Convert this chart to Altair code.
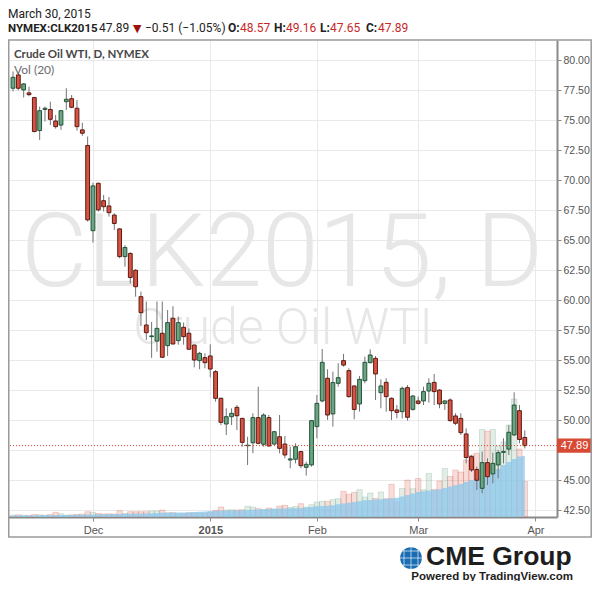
import altair as alt
import pandas as pd

# ---------------- data ----------------
opens = [77.67, 78.78, 77.53, 77.28, 76.89, 74.14, 75.90, 75.90, 74.94, 74.60,
         76.55, 76.80, 76.00, 74.20, 72.90, 65.80, 69.75, 68.30, 67.86, 67.10,
         65.95, 63.64, 63.90, 62.50, 60.30, 57.94, 56.97, 56.60, 57.25, 56.22,
         58.50, 56.64, 57.75, 57.25, 56.27, 54.97, 55.22, 55.36, 54.05, 51.83,
         49.69, 50.30, 51.08, 50.16, 47.88, 48.13, 50.22, 48.00, 50.22, 48.02,
         48.63, 48.02, 46.69, 46.75, 47.39, 46.08, 46.28, 49.47, 51.61, 53.50,
         50.53, 53.08, 54.97, 54.14, 52.86, 51.36, 53.30, 54.80, 55.16, 52.30,
         53.16, 51.83, 50.86, 50.72, 52.72, 50.91, 51.61, 51.61, 52.44, 53.16,
         52.52, 51.41, 51.69, 50.36, 50.16, 48.86, 46.97, 45.90, 44.33, 46.47,
         45.53, 46.28, 47.33, 47.60, 48.78, 50.80, 48.57]
highs = [79.06, 78.90, 78.10, 77.80, 76.95, 76.14, 76.14, 76.55, 75.44, 75.86,
         77.67, 77.10, 76.70, 74.80, 73.64, 69.80, 69.80, 68.78, 68.60, 67.25,
         66.00, 64.60, 64.00, 62.60, 60.72, 59.90, 58.20, 59.90, 59.90, 59.19,
         59.50, 58.64, 58.14, 57.66, 56.30, 55.70, 55.58, 56.33, 54.19, 51.90,
         51.00, 51.00, 51.27, 50.20, 48.63, 50.58, 52.80, 50.58, 50.44, 49.10,
         50.44, 48.69, 47.80, 48.08, 47.45, 46.55, 50.03, 52.11, 55.94, 54.25,
         54.05, 54.75, 55.53, 54.33, 52.90, 53.69, 55.30, 55.91, 55.36, 53.41,
         53.50, 51.90, 51.27, 52.80, 52.94, 52.11, 51.97, 52.80, 53.50, 53.86,
         52.60, 51.70, 51.83, 50.58, 50.58, 49.33, 47.10, 46.14, 47.39, 46.83,
         47.30, 47.52, 48.50, 49.60, 52.33, 51.27, 49.16]
lows = [77.40, 77.50, 76.90, 77.00, 74.00, 73.36, 74.90, 74.60, 74.30, 74.20,
        75.86, 76.00, 74.14, 73.70, 66.56, 64.80, 67.40, 67.40, 66.97, 65.86,
        63.50, 62.80, 61.40, 60.30, 57.86, 56.70, 55.20, 55.72, 55.20, 55.36,
        56.30, 56.30, 56.30, 55.90, 54.41, 54.25, 54.33, 53.58, 51.55, 49.60,
        48.77, 49.60, 49.19, 47.80, 46.27, 47.25, 48.00, 47.80, 47.80, 47.90,
        47.25, 46.83, 46.00, 46.41, 46.00, 45.39, 46.14, 48.50, 51.50, 50.03,
        49.47, 52.80, 54.47, 51.90, 50.08, 50.72, 53.08, 54.75, 51.69, 51.00,
        50.72, 50.02, 50.16, 50.16, 49.97, 50.80, 51.30, 51.27, 51.47, 51.27,
        51.00, 50.86, 49.89, 49.60, 48.78, 46.41, 45.70, 44.19, 43.92, 44.60,
        44.75, 45.16, 46.41, 47.10, 48.70, 48.08, 47.65]
closes = [78.58, 77.67, 78.03, 77.14, 74.06, 75.80, 76.00, 75.08, 74.47, 75.80,
          76.75, 76.08, 74.47, 73.92, 66.70, 69.53, 67.53, 67.80, 67.30, 66.40,
          63.64, 64.40, 61.90, 61.13, 58.97, 57.30, 57.03, 57.66, 55.25, 58.14,
          56.36, 58.14, 56.97, 55.92, 55.02, 55.58, 54.80, 54.27, 51.83, 49.83,
          50.30, 50.58, 50.38, 48.16, 47.92, 50.22, 48.08, 50.44, 47.86, 49.05,
          47.66, 47.11, 46.78, 47.80, 46.22, 46.33, 49.97, 51.41, 54.83, 50.44,
          53.14, 53.55, 54.60, 51.97, 50.90, 53.41, 54.83, 55.44, 53.86, 52.86,
          51.97, 50.80, 50.66, 52.66, 50.25, 52.02, 51.41, 52.39, 53.08, 52.39,
          51.36, 51.61, 49.97, 49.75, 48.97, 46.90, 45.86, 45.00, 46.47, 45.30,
          46.41, 47.30, 47.39, 49.00, 51.27, 48.40, 47.89]
# volume (relative units)
volumes = [2.0, 2.2, 1.8, 1.5, 2.5, 2.3, 1.8, 2.5, 4.7, 3.3,
           2.0, 2.2, 2.6, 2.8, 5.3, 4.7, 3.5, 3.0, 3.2, 3.0,
           6.3, 3.5, 5.3, 5.3, 5.3, 5.3, 6.0, 6.0, 7.0, 4.3,
           4.3, 3.0, 3.5, 4.0, 3.8, 4.0, 3.5, 4.5, 6.5, 10.0,
           7.0, 7.3, 7.0, 7.3, 10.7, 10.0, 8.3, 7.5, 9.0, 8.0,
           11.0, 11.7, 9.5, 10.5, 13.3, 10.0, 12.3, 15.0, 15.7, 15.7,
           17.3, 18.3, 25.7, 22.7, 24.7, 27.3, 20.0, 24.0, 18.5, 25.0,
           18.3, 32.7, 15.0, 28.5, 37.0, 28.3, 38.5, 27.3, 43.5, 27.5,
           36.0, 48.5, 40.5, 47.0, 45.0, 57.0, 62.0, 64.0, 87.5, 86.0,
           87.5, 71.0, 75.0, 92.0, 118.0, 68.0, 35.5]
vol_avg = [1.5, 1.5, 1.5, 1.6, 1.6, 1.7, 1.7, 1.8, 1.9, 2.0,
           2.0, 2.1, 2.2, 2.3, 2.5, 2.6, 2.7, 2.8, 2.9, 3.0,
           3.1, 3.2, 3.3, 3.4, 3.5, 3.6, 3.8, 4.0, 4.2, 4.3,
           4.4, 4.5, 4.6, 4.8, 5.0, 5.3, 5.6, 6.0, 6.1, 6.2,
           6.3, 6.4, 6.5, 6.7, 7.0, 7.3, 7.5, 7.8, 8.0, 8.3,
           8.4, 8.5, 8.7, 8.8, 9.0, 9.5, 10.0, 10.7, 11.0, 11.3,
           11.7, 12.7, 13.5, 14.3, 15.0, 15.8, 16.7, 17.0, 17.4, 17.8,
           18.3, 18.8, 19.3, 20.5, 22.0, 23.5, 25.0, 25.8, 26.5, 27.0,
           27.7, 29.0, 30.5, 31.8, 33.0, 35.0, 37.0, 38.5, 40.0, 42.5,
           45.0, 48.0, 52.0, 55.0, 58.0, 60.5, 61.0]

tick_index = [15, 37, 57, 76, 98]
tick_labels = ["Dec", "2015", "Feb", "Mar", "Apr"]
price_ticks = [42.5, 45.0, 47.5, 50.0, 52.5, 55.0, 57.5, 60.0, 62.5, 65.0,
               67.5, 70.0, 72.5, 75.0, 77.5, 80.0]
last_close = 47.89

df = pd.DataFrame({
    "i": list(range(len(opens))),
    "open": opens, "high": highs, "low": lows, "close": closes,
    "volume": volumes, "vol_avg": vol_avg,
})

# ---------------- style ----------------
UP, DOWN = "#6ba583", "#d75442"
UP_B, DOWN_B = "#225437", "#5b1a13"
W, H = 549, 477
is_up = "datum.close >= datum.open"

label_expr = "".join(f"datum.value == {v} ? '{t}' : " for v, t in zip(tick_index, tick_labels)) + "''"

x_enc = alt.X(
    "i:Q",
    scale=alt.Scale(domain=[0, 101.1], nice=False, zero=False),
    axis=alt.Axis(values=tick_index, labelExpr=label_expr, title=None, grid=True,
                  gridColor="#e9e9e9", domainColor="#8a8a8a", domainWidth=2,
                  tickColor="#8a8a8a", tickSize=4, labelColor="#555",
                  labelFont="Liberation Sans", labelFontSize=11, labelPadding=3,
                  labelFontWeight={"condition": {"test": "datum.value == 37", "value": "bold"},
                                   "value": "normal"}),
)

price_scale = alt.Scale(domain=[41.94, 81.69], nice=False, zero=False)
# the 47.50 label sits under the last-price tag, as in the reference
price_axis = alt.Axis(orient="right", values=price_ticks, title=None,
                      labelExpr=f"abs(datum.value - {last_close}) < 0.6 ? '' : format(datum.value, '.2f')",
                      grid=True, gridColor="#e9e9e9", domainColor="#8a8a8a",
                      domainWidth=2, tickColor="#8a8a8a", tickSize=4,
                      labelColor="#555", labelFont="Liberation Sans",
                      labelFontSize=10.5, labelPadding=2)
vol_scale = alt.Scale(domain=[0, H], nice=False, zero=True)

base = alt.Chart(df)
one = alt.Chart(pd.DataFrame({"k": [0]}))


def txt(s, x, y, **kw):
    props = dict(align="left", baseline="alphabetic", font="Roboto", fontSize=12, color="#222")
    props.update(kw)
    return one.mark_text(text=s, **props).encode(x=alt.value(x), y=alt.value(y))


# watermark
wm1 = txt("CLK2015, D", 274, 246, align="center", font="Roboto", fontWeight=300,
          fontSize=102, color="#e7e7e7")
wm2 = txt("Crude Oil WTI", 275, 304, align="center", font="Roboto", fontWeight=300,
          fontSize=50, color="#e7e7e7")

# volume
vol_bars = base.mark_bar(size=5.4, strokeWidth=0.8, fillOpacity=0.2, strokeOpacity=0.3).encode(
    x=x_enc,
    y=alt.Y("volume:Q", scale=vol_scale, axis=None),
    fill=alt.condition(is_up, alt.value(UP), alt.value(DOWN)),
    stroke=alt.condition(is_up, alt.value(UP), alt.value(DOWN)),
)
vol_area = base.mark_area(interpolate="step", color="#8ec8ec", opacity=0.78).encode(
    x=x_enc,
    y=alt.Y("vol_avg:Q", scale=vol_scale, axis=None),
)
vol = alt.layer(vol_bars, vol_area)

# candles
wicks = base.mark_rule(color="#737375", strokeWidth=1).encode(
    x=x_enc,
    y=alt.Y("low:Q", scale=price_scale, axis=price_axis),
    y2="high:Q",
)
bodies = base.mark_bar(size=3.8, strokeWidth=1).encode(
    x=x_enc,
    y=alt.Y("open:Q", scale=price_scale, axis=price_axis),
    y2="close:Q",
    fill=alt.condition(is_up, alt.value(UP), alt.value(DOWN)),
    stroke=alt.condition(is_up, alt.value(UP_B), alt.value(DOWN_B)),
)
dotted = one.mark_rule(color="#e0402f", strokeDash=[1, 2], strokeWidth=1).encode(
    y=alt.Y(datum=last_close, scale=price_scale, axis=price_axis),
)
lab_rect = one.mark_rect(color="#d94a35").encode(
    x=alt.value(549), x2=alt.value(584),
    y=alt.Y(datum=last_close + 0.6, scale=price_scale, axis=price_axis),
    y2=alt.Y2(datum=last_close - 0.6),
)
lab_text = one.mark_text(text=f"{last_close:.2f}", color="white", font="Liberation Sans",
                         fontSize=11, align="center", baseline="middle").encode(
    x=alt.value(566.5),
    y=alt.Y(datum=last_close, scale=price_scale, axis=price_axis),
)
price = alt.layer(wicks, bodies, dotted, lab_rect, lab_text)

# frame
frame = one.mark_rect(fillOpacity=0, stroke="#9a9a9a", strokeWidth=1.5).encode(
    x=alt.value(0.75), x2=alt.value(583.2), y=alt.value(0), y2=alt.value(497),
)

# header texts
RED = "#c62828"
header = [
    txt("March 30, 2015", 0, -22, fontSize=12),
    txt("NYMEX:CLK2015", 0, -8, fontWeight="bold", fontSize=11.5),
    txt("47.89", 91, -8),
    txt("\u25bc", 125, -8, color="#a01010", fontSize=11, font="DejaVu Sans"),
    txt("\u22120.51 (\u22121.05%)", 137, -8),
    txt("O:", 220, -8, fontWeight="bold"), txt("48.57", 232, -8, color=RED),
    txt("H:", 266, -8, fontWeight="bold"), txt("49.16", 278, -8, color=RED),
    txt("L:", 312, -8, fontWeight="bold"), txt("47.65", 322, -8, color=RED),
    txt("C:", 358, -8, fontWeight="bold"), txt("47.89", 370, -8, color=RED),
    txt("Crude Oil WTI, D, NYMEX", 6, 18, font="Lato", fontWeight="bold", fontSize=11.5,
        color="#474747"),
    txt("Vol (20)", 6, 34, font="Lato", fontSize=12, color="#6a6a6a"),
]

# logo
globe = one.mark_point(filled=True, shape="circle", size=470, color="#1b6db3", opacity=1).encode(
    x=alt.value(403), y=alt.value(518))
globe_lines = [
    one.mark_rule(color="white", strokeWidth=0.8, opacity=0.8).encode(
        x=alt.value(403 - hw), x2=alt.value(403 + hw), y=alt.value(yy))
    for yy, hw in [(511, 8), (518, 11), (525, 8)]
] + [
    one.mark_rule(color="white", strokeWidth=0.8, opacity=0.8).encode(
        x=alt.value(xx), y=alt.value(518 - hh), y2=alt.value(518 + hh))
    for xx, hh in [(396, 8), (403, 11), (410, 8)]
]
logo = [
    txt("CME Group", 418, 525, font="Liberation Sans", fontWeight="bold", fontSize=26.5,
        color="#1e1e1e"),
    txt("Powered by TradingView.com", 565, 540, align="right", font="Liberation Sans",
        fontWeight="bold", fontSize=11.5, color="#1e1e1e"),
]

chart = alt.layer(wm1, wm2, vol, price, frame, *header, globe, *globe_lines, *logo).resolve_scale(
    y="independent"
).properties(
    width=W, height=H,
    autosize=alt.AutoSizeParams(type="none"),
    padding={"left": 0, "top": 32, "right": 35, "bottom": 64},
    background="white",
).configure_view(stroke=None)

chart.save("out.html", embed_options={"renderer": "svg", "actions": False})
